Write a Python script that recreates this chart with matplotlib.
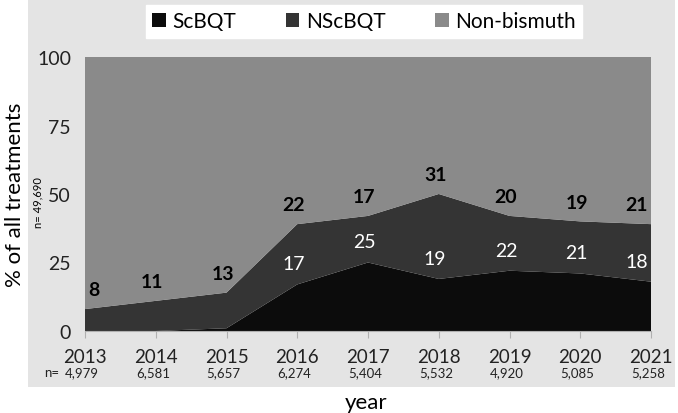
import matplotlib.pyplot as plt
from matplotlib.patches import Rectangle
import numpy as np

plt.rcParams['font.family'] = ['Lato', 'DejaVu Sans']

years = [2013, 2014, 2015, 2016, 2017, 2018, 2019, 2020, 2021]
scbqt = [0, 0, 1, 17, 25, 19, 22, 21, 18]
nscbqt = [8, 11, 13, 22, 17, 31, 20, 19, 21]
n_values = ['4,979', '6,581', '5,657', '6,274', '5,404', '5,532', '4,920', '5,085', '5,258']
series_names = ['ScBQT', 'NScBQT', 'Non-bismuth']
colors = ['#0c0c0c', '#343434', '#8a8a8a']

sc = np.array(scbqt)
ns = np.array(nscbqt)
non_bi = 100 - sc - ns

fig = plt.figure(figsize=(6.78, 4.14), dpi=100)
fig.patch.set_facecolor('white')

# fondo gris del grafico
fig.patches.append(Rectangle((28 / 678, 26 / 414), 647 / 678, 388 / 414,
                             transform=fig.transFigure, facecolor='#e4e4e4',
                             edgecolor='none', zorder=-5))

ax = fig.add_axes([85 / 678, 82 / 414, 566 / 678, 274 / 414])
ax.set_facecolor('none')
polys = ax.stackplot(years, sc, ns, non_bi, colors=colors, labels=series_names, linewidth=0)

ax.set_xlim(years[0], years[-1])
ax.set_ylim(0, 100)
ax.set_yticks([0, 25, 50, 75, 100])
ax.set_xticks(years)
ax.set_xticklabels([str(y) for y in years])
ax.tick_params(axis='y', length=0, labelsize=14, pad=10, labelcolor='#222222')
ax.tick_params(axis='x', length=5, color='#b0b0b0', labelsize=13.5, pad=7, labelcolor='#222222')
for s in ['top', 'right', 'left']:
    ax.spines[s].set_visible(False)
ax.spines['bottom'].set_color('#b0b0b0')

# etiquetas de datos
top = sc + ns
for i, y in enumerate(years):
    dx = 0.12 if i == 0 else (-0.2 if i == len(years) - 1 else -0.05)
    ax.text(y + dx, top[i] + 7, str(nscbqt[i]), ha='center', va='center',
            fontsize=14, fontweight='bold', color='black')
    if scbqt[i] > 1:
        ax.text(y + dx, sc[i] + 7.5, str(scbqt[i]), ha='center', va='center',
                fontsize=14, color='white')

# fila de n por año
for i, y in enumerate(years):
    ax.text(y - 0.04, -15, n_values[i], ha='center', va='center', fontsize=9.5,
            color='#222222', clip_on=False)
ax.text(2013 - 0.47, -15, 'n=', ha='center', va='center', fontsize=9.5,
        color='#222222', clip_on=False)

fig.text(15 / 678, 0.53, '% of all treatments', rotation=90, ha='center', va='center', fontsize=16)
fig.text(38 / 678, 0.51, 'n= 49,690', rotation=90, ha='center', va='center', fontsize=8)
fig.text(0.54, 11 / 414, 'year', ha='center', va='center', fontsize=16)

leg = fig.legend(loc='upper center', bbox_to_anchor=(0.537, 0.985), ncol=3, fontsize=15,
                 frameon=True, fancybox=False, handlelength=0.65, handleheight=0.65,
                 handletextpad=0.3, columnspacing=2.4, borderpad=0.3, borderaxespad=0)
leg.get_frame().set_facecolor('white')
leg.get_frame().set_edgecolor('white')
leg.get_frame().set_alpha(1)

fig.savefig('out.png', dpi=100)
